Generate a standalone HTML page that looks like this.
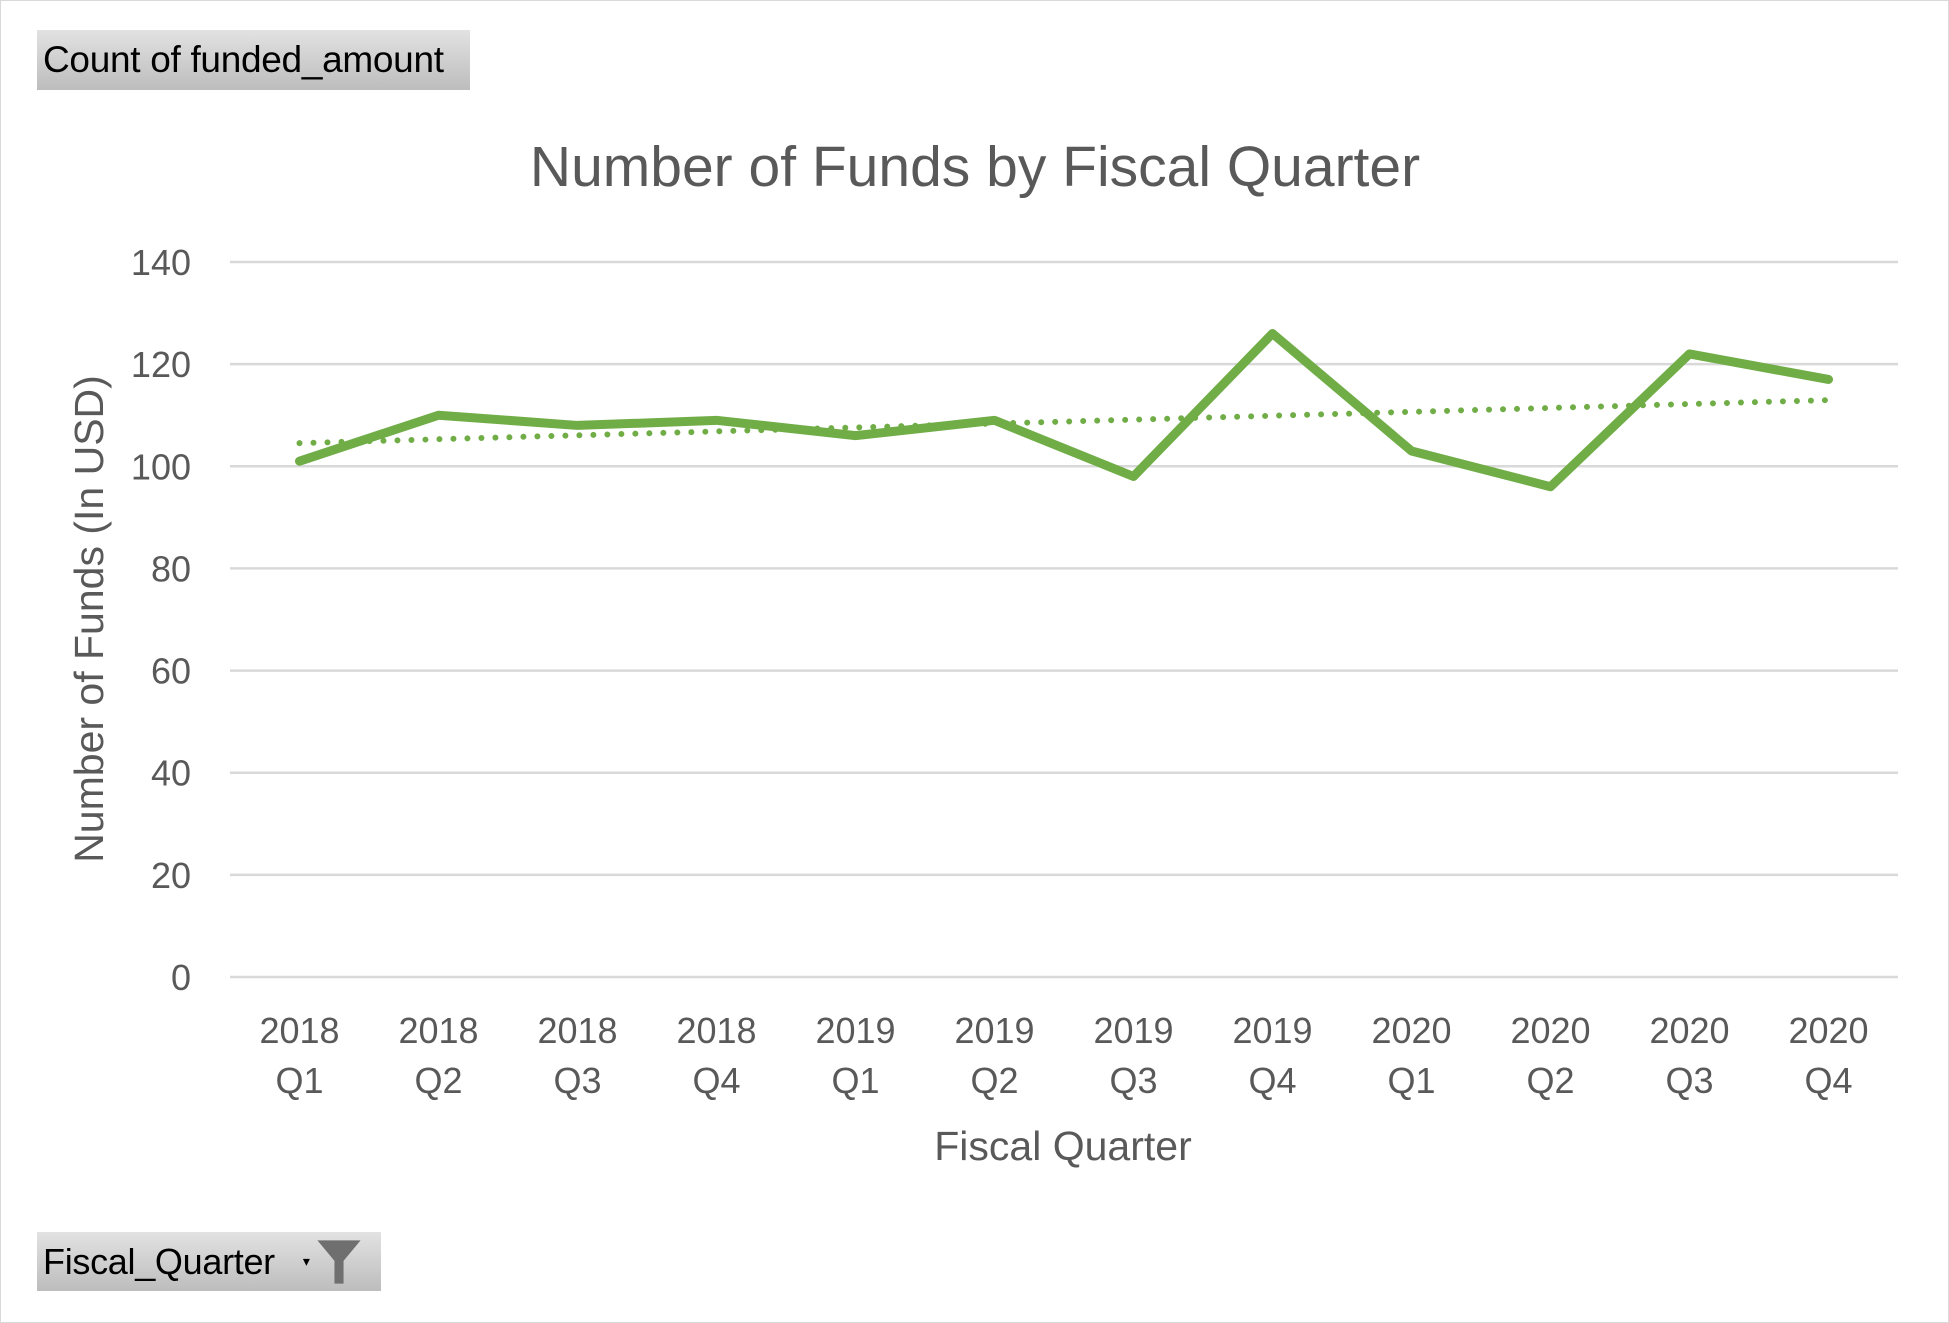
<!DOCTYPE html>
<html><head><meta charset="utf-8"><style>
body{margin:0;width:1949px;height:1323px;background:#fff;overflow:hidden;font-family:"Liberation Sans",sans-serif}
.btn{position:absolute;background:linear-gradient(#e2e2e2,#bdbdbd);color:#000;box-sizing:border-box;padding-left:6px;display:flex;align-items:center}
</style></head><body>
<div style="position:absolute;left:0;top:0;width:1947px;height:1321px;border:1px solid #d9d9d9"></div>
<div class="btn" style="left:37px;top:30px;width:433px;height:60px;font-size:37px;letter-spacing:-0.3px">Count of funded_amount</div>
<div class="btn" style="left:37px;top:1232px;width:344px;height:59px;font-size:36px;letter-spacing:-0.3px">Fiscal_Quarter<span style="font-size:14px;margin-left:28px">▾</span><svg width="50" height="50" viewBox="0 0 44 44" style="margin-left:4px"><path d="M3 3H41L26 21V41H18V21Z" fill="#6f6f6f"/></svg></div>
<svg id="chart" width="1949" height="1323" style="position:absolute;left:0;top:0" font-family="Liberation Sans, sans-serif">
<text x="975" y="186" text-anchor="middle" font-size="57" fill="#595959">Number of Funds by Fiscal Quarter</text>
<text transform="translate(103,619) rotate(-90)" text-anchor="middle" font-size="41" fill="#595959">Number of Funds (In USD)</text>
<text x="1063" y="1160" text-anchor="middle" font-size="41" fill="#595959">Fiscal Quarter</text>
<g id="grid"></g><g id="labels"></g><g id="series"></g>
</svg>
<script>
const years=["2018","2018","2018","2018","2019","2019","2019","2019","2020","2020","2020","2020"];
const quarters=["Q1","Q2","Q3","Q4","Q1","Q2","Q3","Q4","Q1","Q2","Q3","Q4"];
const values=[101,110,108,109,106,109,98,126,103,96,122,117];
const yTicks=[0,20,40,60,80,100,120,140];
const NS="http://www.w3.org/2000/svg";
const X0=230,X1=1898,Y0=977,Y1=262,YMAX=140;
const step=(X1-X0)/values.length;
const xs=i=>X0+step*(i+0.5);
const ys=v=>Y0-(v/YMAX)*(Y0-Y1);
function mk(t,a,p){const e=document.createElementNS(NS,t);for(const k in a)e.setAttribute(k,a[k]);p.appendChild(e);return e;}
const grid=document.getElementById('grid'),labels=document.getElementById('labels'),series=document.getElementById('series');
yTicks.forEach(t=>{
 const l=mk('line',{x1:X0,x2:X1,y1:ys(t),y2:ys(t),stroke:'#d9d9d9','stroke-width':2.5},grid);
 
 
 const tx=mk('text',{x:191,y:ys(t)+13,'text-anchor':'end','font-size':36,fill:'#595959'},labels);
 tx.textContent=t;
 
 
});
years.forEach((y,i)=>{
 const a=mk('text',{x:xs(i),y:1043,'text-anchor':'middle','font-size':36,fill:'#595959'},labels);
 a.textContent=y;
 
 
 const b=mk('text',{x:xs(i),y:1093,'text-anchor':'middle','font-size':36,fill:'#595959'},labels);
 b.textContent=quarters[i];
 
 
});
const n=values.length;let sx=0,sy=0,sxy=0,sxx=0;
values.forEach((v,i)=>{sx+=i;sy+=v;sxy+=i*v;sxx+=i*i;});
const slope=(n*sxy-sx*sy)/(n*sxx-sx*sx),inter=(sy-slope*sx)/n;
const tr=mk('line',{x1:xs(0),y1:ys(inter),x2:xs(n-1),y2:ys(inter+slope*(n-1)),stroke:'#70ad47','stroke-width':6,'stroke-dasharray':'0 14','stroke-linecap':'round'},series);


const pl=mk('polyline',{points:values.map((v,i)=>xs(i)+','+ys(v)).join(' '),fill:'none',stroke:'#70ad47','stroke-width':9,'stroke-linejoin':'round','stroke-linecap':'round'},series);


</script>
</body></html>
